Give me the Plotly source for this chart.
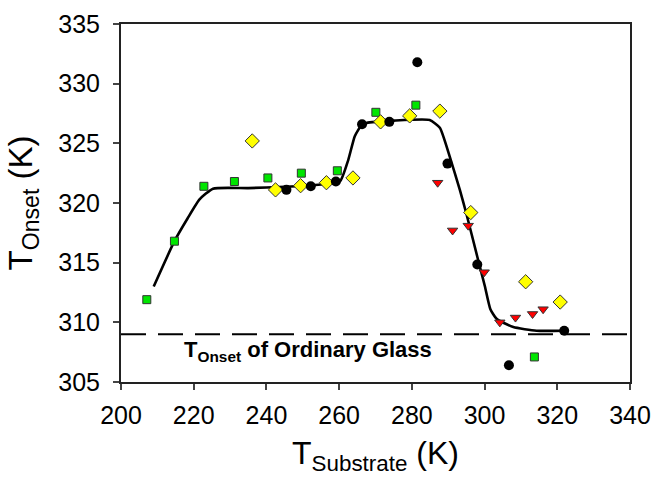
import plotly.graph_objects as go

# Data
sq_x = [207.1, 214.7, 222.8, 231.2, 240.4, 249.6, 259.5, 270.1, 281.1, 313.7]
sq_y = [311.9, 316.8, 321.4, 321.8, 322.1, 322.5, 322.7, 327.6, 328.2, 307.1]

dia_x = [236.1, 242.5, 249.4, 256.5, 263.8, 271.4, 279.4, 287.7, 296.2, 311.3, 320.8]
dia_y = [325.2, 321.1, 321.45, 321.7, 322.1, 326.8, 327.3, 327.7, 319.2, 313.4, 311.7]

cir_x = [245.5, 252.2, 259.1, 266.3, 273.8, 281.5, 289.8, 298.0, 306.7, 321.9]
cir_y = [321.1, 321.4, 321.8, 326.6, 326.8, 331.8, 323.3, 314.85, 306.4, 309.3]

tri_x = [287.1, 291.2, 295.5, 299.9, 304.2, 308.5, 313.2, 316.1]
tri_y = [321.7, 317.7, 318.1, 314.2, 310.0, 310.4, 310.7, 311.1]

fit_x = [209.0, 214.7, 218.3, 221.6, 225.3, 235.0, 245.0, 255.0, 260.2, 262.5, 264.3,
         266.1, 267.5, 275.0, 284.9, 287.7, 290.4, 293.2, 295.0, 298.0, 300.1, 301.6,
         303.3, 307.9, 314.3, 321.9]
fit_y = [313.0, 316.8, 318.7, 320.3, 321.2, 321.25, 321.35, 321.55, 321.8, 323.6, 325.6,
         326.5, 326.7, 326.9, 326.95, 326.3, 323.9, 321.1, 319.1, 315.5, 313.0, 311.1,
         310.3, 309.6, 309.3, 309.3]

glass_onset = 309.0
x_ticks = [200, 220, 240, 260, 280, 300, 320, 340]
y_ticks = [305, 310, 315, 320, 325, 330, 335]

FONT = "Arial, Liberation Sans, sans-serif"
edge = dict(color="#333333", width=1)

fig = go.Figure()
fig.add_trace(go.Scatter(x=fit_x, y=fit_y, mode="lines",
                         line=dict(color="black", width=2.6, shape="spline", smoothing=0.5),
                         hoverinfo="skip", showlegend=False))
fig.add_trace(go.Scatter(x=sq_x, y=sq_y, mode="markers",
                         marker=dict(symbol="square", size=8, color="#00E600", line=edge),
                         showlegend=False))
fig.add_trace(go.Scatter(x=dia_x, y=dia_y, mode="markers",
                         marker=dict(symbol="diamond", size=11, color="#FFFF00", line=edge),
                         showlegend=False))
fig.add_trace(go.Scatter(x=tri_x, y=tri_y, mode="markers",
                         marker=dict(symbol="triangle-down", size=9, color="#FF0000", line=edge),
                         showlegend=False))
fig.add_trace(go.Scatter(x=cir_x, y=cir_y, mode="markers",
                         marker=dict(symbol="circle", size=10, color="black"),
                         showlegend=False))

fig.add_shape(type="line", xref="paper", yref="y", x0=0, x1=1, y0=glass_onset, y1=glass_onset,
              line=dict(color="black", width=2, dash="25px,12px"))

fig.add_annotation(x=216.9, y=307.6, xref="x", yref="y", xanchor="left", yanchor="middle",
                   showarrow=False,
                   text="<b>T<sub>Onset</sub> of Ordinary Glass</b>",
                   font=dict(family=FONT, size=22, color="black"))

fig.update_xaxes(range=[200, 340], tickvals=x_ticks, ticks="outside", ticklen=6, tickwidth=2,
                 showline=True, linewidth=2, linecolor="#222222", mirror=True,
                 showgrid=False, zeroline=False, ticklabelstandoff=4,
                 tickfont=dict(family=FONT, size=25, color="black"),
                 title=dict(text="T<sub>Substrate</sub> (K)", standoff=14,
                            font=dict(family=FONT, size=32, color="black")))
fig.update_yaxes(range=[305, 335], tickvals=y_ticks, ticks="outside", ticklen=6, tickwidth=2,
                 showline=True, linewidth=2, linecolor="#222222", mirror=True,
                 showgrid=False, zeroline=False, ticklabelstandoff=8,
                 tickfont=dict(family=FONT, size=25, color="black"),
                 title=dict(text="T<sub>Onset</sub> (K)", standoff=16,
                            font=dict(family=FONT, size=33, color="black")))

fig.update_layout(width=655, height=477, margin=dict(l=121, r=25, t=24, b=95, autoexpand=False),
                  paper_bgcolor="white", plot_bgcolor="white")

fig.write_html("out.html")
